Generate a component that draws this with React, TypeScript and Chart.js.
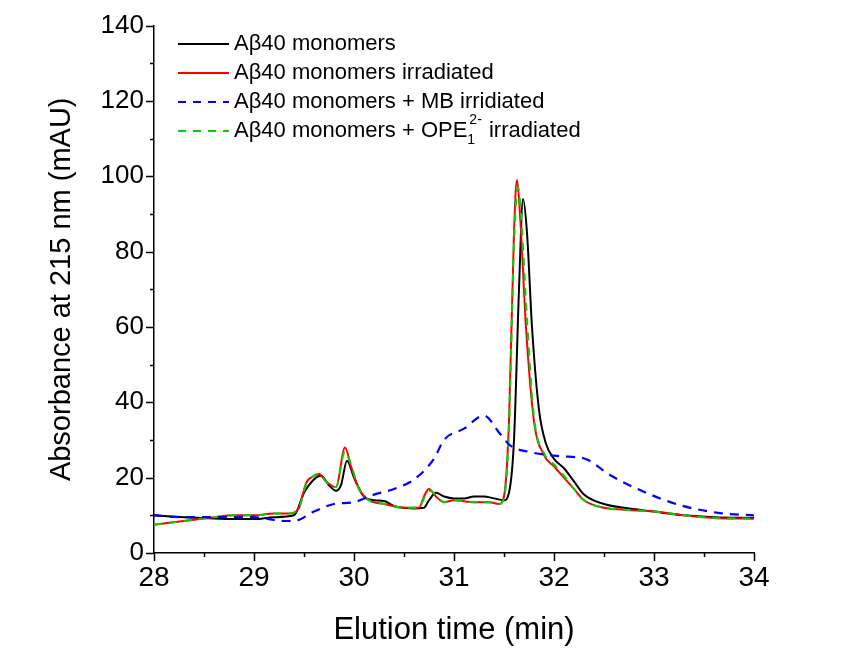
import React, { useEffect, useRef } from "react";
import { Chart, registerables } from "chart.js";

Chart.register(...registerables);

const timeBlack = [28.0, 28.3, 28.5, 28.8, 29.0, 29.2, 29.4, 29.5, 29.55, 29.62, 29.67, 29.75, 29.82, 29.87, 29.93, 30.0, 30.1, 30.2, 30.3, 30.4, 30.5, 30.6, 30.7, 30.75, 30.82, 30.9, 31.0, 31.1, 31.2, 31.3, 31.4, 31.5, 31.55, 31.6, 31.65, 31.69, 31.73, 31.78, 31.85, 31.92, 32.0, 32.1, 32.2, 32.3, 32.5, 32.7, 33.0, 33.3, 33.6, 34.0];
const valBlack = [10, 9.5, 9.3, 9, 9, 9.5, 10, 16, 18, 20, 20.5, 18, 16.5, 18, 24.5, 20, 15, 14, 13.8, 12.5, 12, 11.8, 12, 14, 16, 15, 14.5, 14.5, 15, 15, 14.5, 14, 16, 30, 70, 94, 85, 60, 38, 29, 25, 22.5, 19, 15.5, 13, 12, 11, 10, 9.5, 9.3];

const timeRed = [28.0, 28.3, 28.6, 28.8, 29.0, 29.2, 29.35, 29.45, 29.52, 29.6, 29.65, 29.72, 29.82, 29.91, 29.97, 30.05, 30.15, 30.3, 30.5, 30.65, 30.7, 30.75, 30.82, 30.9, 31.0, 31.2, 31.35, 31.45, 31.5, 31.55, 31.6, 31.63, 31.66, 31.72, 31.8, 31.9, 32.0, 32.1, 32.2, 32.3, 32.5, 32.7, 33.0, 33.3, 33.6, 34.0];
const valRed = [7.5, 8.5, 9.5, 10, 10, 10.5, 10.5, 12, 18.5, 20.5, 21, 19, 17.5, 28, 23, 17, 14, 13, 12, 12, 15, 17, 15, 13.5, 14, 13.5, 13.5, 13, 15, 35, 85, 99, 90, 60, 35, 26, 23, 20, 17, 14, 12, 11.5, 11, 10, 9.3, 9.1];

const timeBlue = [28.0, 28.3, 28.6, 29.0, 29.3, 29.4, 29.6, 29.8, 30.0, 30.2, 30.4, 30.6, 30.8, 30.9, 31.1, 31.3, 31.45, 31.56, 31.76, 32.06, 32.31, 32.56, 32.86, 33.26, 33.66, 34.0];
const valBlue = [10, 9.5, 9.5, 9.5, 8.5, 8.5, 11, 13, 13.5, 15.5, 17, 19.5, 25, 30, 33, 36.5, 32, 28.6, 26.8, 25.7, 25, 20.7, 16.7, 12.7, 10.6, 10];

const timeGreen = [28.0, 28.3, 28.6, 28.8, 29.0, 29.2, 29.35, 29.45, 29.52, 29.6, 29.65, 29.72, 29.82, 29.91, 29.97, 30.05, 30.15, 30.3, 30.5, 30.65, 30.7, 30.76, 30.83, 30.9, 31.0, 31.2, 31.35, 31.45, 31.5, 31.55, 31.6, 31.64, 31.67, 31.73, 31.8, 31.9, 32.0, 32.1, 32.2, 32.3, 32.5, 32.7, 33.0, 33.3, 33.6, 34.0];
const valGreen = [7.5, 8.5, 9.5, 10, 10, 10.5, 10.5, 12, 18, 20.5, 21, 19, 17.5, 27, 23.5, 17, 14, 13, 12, 12, 14.5, 16.5, 15, 13.5, 14, 13.5, 13.5, 13, 14.5, 33, 82, 97, 90, 62, 36, 26.5, 23.5, 20.5, 17, 14, 12, 11.5, 11, 10, 9.3, 9.1];

const xTickLabels = ["28", "29", "30", "31", "32", "33", "34"];
const yTickLabels = ["0", "20", "40", "60", "80", "100", "120", "140"];

const seriesNames = [
  "Aβ40 monomers",
  "Aβ40 monomers irradiated",
  "Aβ40 monomers + MB irridiated",
  "Aβ40 monomers + OPE",
];

const pts = (t: number[], v: number[]) => t.map((x, i) => ({ x, y: v[i] }));

const FONT = "'Liberation Sans', Arial, sans-serif";
const NARROW = "'Liberation Sans Narrow', 'Liberation Sans', Arial, sans-serif";

const tickPlugin = {
  id: "customTicks",
  afterDraw(chart: any) {
    const ctx = chart.ctx;
    const xs = chart.scales.x;
    const ys = chart.scales.y;
    const area = chart.chartArea;
    ctx.save();
    ctx.strokeStyle = "#000";
    ctx.lineWidth = 1.5;
    for (let i = 0; i <= 12; i++) {
      const v = 28 + i * 0.5;
      const px = Math.round(xs.getPixelForValue(v)) + 0.5;
      const len = i % 2 === 0 ? 8 : 4;
      ctx.beginPath();
      ctx.moveTo(px, area.bottom);
      ctx.lineTo(px, area.bottom + len);
      ctx.stroke();
    }
    for (let i = 0; i <= 14; i++) {
      const v = i * 10;
      const py = Math.round(ys.getPixelForValue(v)) + 0.5;
      const len = i % 2 === 0 ? 8 : 4;
      ctx.beginPath();
      ctx.moveTo(area.left, py);
      ctx.lineTo(area.left - len, py);
      ctx.stroke();
    }
    // legend
    const colors = ["#000000", "#ff0000", "#0000ff", "#00d400"];
    const dashes: number[][] = [[], [], [8, 7], [8, 7]];
    const rowY = [44, 73, 102, 131];
    ctx.textBaseline = "middle";
    ctx.fillStyle = "#000";
    for (let i = 0; i < 4; i++) {
      ctx.beginPath();
      ctx.setLineDash(dashes[i]);
      ctx.lineWidth = 2;
      ctx.strokeStyle = colors[i];
      ctx.moveTo(178, rowY[i]);
      ctx.lineTo(229, rowY[i]);
      ctx.stroke();
      ctx.setLineDash([]);
      ctx.font = `22px ${FONT}`;
      ctx.fillText(seriesNames[i], 234, rowY[i]);
      if (i === 3) {
        let x = 234 + ctx.measureText(seriesNames[i]).width;
        ctx.font = `14px ${FONT}`;
        ctx.fillText("1", x, rowY[i] + 9);
        ctx.fillText("2-", x + 2, rowY[i] - 11);
        x += ctx.measureText("2-").width + 3;
        ctx.font = `22px ${FONT}`;
        ctx.fillText(" irradiated", x, rowY[i]);
      }
    }
    ctx.restore();
  },
};

export default function App() {
  const ref = useRef<HTMLCanvasElement>(null);
  useEffect(() => {
    document.body.style.margin = "0";
    const canvas = ref.current!;
    const common = { pointRadius: 0, borderWidth: 2, cubicInterpolationMode: "monotone" as const, fill: false };
    const chart = new Chart(canvas, {
      type: "line",
      data: {
        datasets: [
          { ...common, label: seriesNames[0], data: pts(timeBlack, valBlack), borderColor: "#000000", order: 3 },
          { ...common, label: seriesNames[1], data: pts(timeRed, valRed), borderColor: "#ff0000", order: 2 },
          { ...common, label: seriesNames[2], data: pts(timeBlue, valBlue), borderColor: "#0000ff", borderDash: [9, 7], borderWidth: 2.2, order: 0 },
          { ...common, label: seriesNames[3], data: pts(timeGreen, valGreen), borderColor: "#00d400", borderDash: [8, 7], order: 1 },
        ],
      },
      options: {
        animation: false,
        responsive: false,
        events: [],
        layout: { padding: { left: 0, right: 101, top: 25, bottom: 0 } },
        plugins: { legend: { display: false }, tooltip: { enabled: false } },
        scales: {
          x: {
            type: "linear",
            min: 28,
            max: 34,
            afterFit: (s: any) => { s.height = 107; },
            afterBuildTicks: (s: any) => { s.ticks = xTickLabels.map((l) => ({ value: Number(l) })); },
            grid: { display: false, drawTicks: false },
            border: { display: true, color: "#000", width: 1.5 },
            ticks: { color: "#000", font: { family: NARROW, size: 28 }, padding: 8, maxRotation: 0, callback: (v: any) => String(v) },
            title: { display: true, text: "Elution time (min)", color: "#000", font: { family: FONT, size: 31 }, padding: { top: 0, bottom: 11 } },
          },
          y: {
            type: "linear",
            min: 0,
            max: 140,
            afterFit: (s: any) => { s.width = 154; },
            afterBuildTicks: (s: any) => { s.ticks = yTickLabels.map((l) => ({ value: Number(l) })); },
            grid: { display: false, drawTicks: false },
            border: { display: true, color: "#000", width: 1.5 },
            ticks: { color: "#000", font: { family: FONT, size: 26 }, padding: 10, callback: (v: any) => String(v) },
            title: { display: true, text: "Absorbance at 215 nm (mAU)", color: "#000", font: { family: FONT, size: 29 }, padding: { top: 45, bottom: 0 } },
          },
        },
      },
      plugins: [tickPlugin],
    });
    return () => chart.destroy();
  }, []);
  return <canvas ref={ref} width={855} height={660} style={{ display: "block", background: "#fff" }} />;
}
